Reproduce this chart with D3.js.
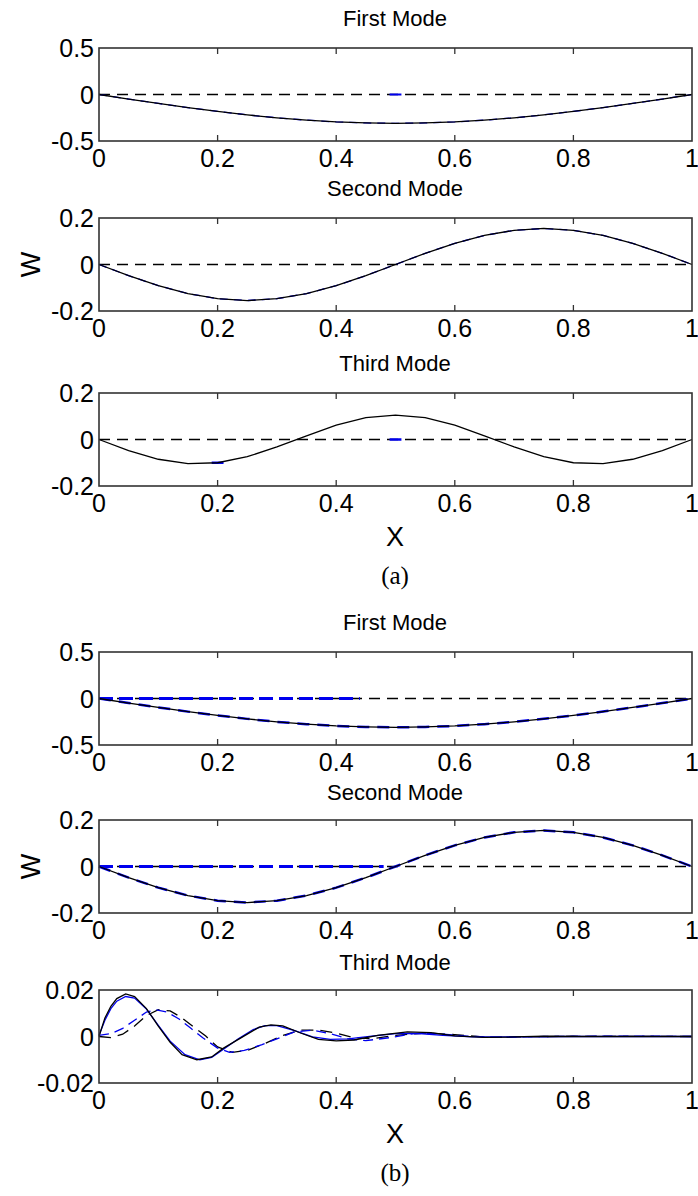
<!DOCTYPE html>
<html>
<head>
<meta charset="utf-8">
<script src="https://cdn.jsdelivr.net/npm/d3@7"></script>
<style>
  body { margin: 0; background: #fff; }
  text { font-family: "Liberation Sans", Arial, sans-serif; fill: #000; }
</style>
</head>
<body>
<svg id="chart" width="698" height="1196"></svg>
<script>
// x positions sampled along the beam
var xs = [0, 0.05, 0.1, 0.15, 0.2, 0.25, 0.3, 0.35, 0.4, 0.45, 0.5,
          0.55, 0.6, 0.65, 0.7, 0.75, 0.8, 0.85, 0.9, 0.95, 1];
var xTicks = [0, 0.2, 0.4, 0.6, 0.8, 1];
var xTickLabels = ["0", "0.2", "0.4", "0.6", "0.8", "1"];

// mode shapes
var firstMode = [0, -0.049, -0.096, -0.141, -0.182, -0.219, -0.251, -0.276, -0.295, -0.306, -0.31,
                 -0.306, -0.295, -0.276, -0.251, -0.219, -0.182, -0.141, -0.096, -0.049, 0];
var secondMode = [0, -0.048, -0.091, -0.125, -0.147, -0.155, -0.147, -0.125, -0.091, -0.048, 0,
                  0.048, 0.091, 0.125, 0.147, 0.155, 0.147, 0.125, 0.091, 0.048, 0];
var thirdMode = [0, -0.048, -0.085, -0.104, -0.1, -0.074, -0.032, 0.016, 0.062, 0.094, 0.105,
                 0.094, 0.062, 0.016, -0.032, -0.074, -0.1, -0.104, -0.085, -0.048, 0];

// (b) third mode: four decaying curves
var b3SolidBlackX = [0, 0.01, 0.02, 0.03, 0.045, 0.06, 0.08, 0.1, 0.12, 0.14, 0.165, 0.19, 0.21, 0.24, 0.27, 0.29, 0.31, 0.34, 0.37, 0.4, 0.43, 0.47, 0.52, 0.56, 0.6, 0.65, 0.7, 0.75, 0.8, 1];
var b3SolidBlackY = [0, 0.008, 0.013, 0.0163, 0.0183, 0.0172, 0.012, 0.0045, -0.0025, -0.0078, -0.01, -0.0088, -0.005, -0.0005, 0.004, 0.005, 0.0046, 0.0015, -0.0012, -0.0019, -0.0015, 0.0005, 0.002, 0.0017, 0.0003, -0.0004, -0.0002, 0.0001, 0, 0];
var b3SolidBlueX = [0, 0.01, 0.02, 0.03, 0.045, 0.06, 0.08, 0.1, 0.12, 0.145, 0.17, 0.19, 0.21, 0.235, 0.26, 0.28, 0.3, 0.33, 0.36, 0.39, 0.42, 0.46, 0.5, 0.54, 0.58, 0.63, 0.7, 0.8, 1];
var b3SolidBlueY = [0.0005, 0.007, 0.012, 0.0152, 0.0172, 0.0165, 0.0118, 0.0048, -0.002, -0.0078, -0.01, -0.009, -0.0055, -0.001, 0.003, 0.0047, 0.0047, 0.0025, -0.0002, -0.0012, -0.001, 0.0002, 0.0012, 0.0013, 0.0005, -0.0002, -0.0002, 0, 0];
var b3DashBlackX = [0, 0.02, 0.04, 0.06, 0.08, 0.1, 0.12, 0.14, 0.16, 0.18, 0.2, 0.225, 0.25, 0.28, 0.31, 0.34, 0.37, 0.4, 0.43, 0.46, 0.5, 0.55, 0.6, 0.66, 0.72, 0.8, 1];
var b3DashBlackY = [0, -0.0005, 0.001, 0.0045, 0.009, 0.0115, 0.011, 0.008, 0.004, 0.0002, -0.0045, -0.0068, -0.006, -0.003, 0.0005, 0.0027, 0.0028, 0.0015, -0.0005, -0.001, 0.0005, 0.0015, 0.0008, -0.0004, -0.0001, 0.0001, 0];
var b3DashBlueX = [0, 0.02, 0.04, 0.06, 0.08, 0.095, 0.115, 0.135, 0.155, 0.175, 0.2, 0.22, 0.245, 0.275, 0.3, 0.33, 0.36, 0.39, 0.42, 0.45, 0.49, 0.53, 0.57, 0.62, 0.67, 0.75, 0.9, 1];
var b3DashBlueY = [0.0005, 0.0012, 0.0035, 0.007, 0.0105, 0.0115, 0.0105, 0.0075, 0.0035, -0.0005, -0.005, -0.0068, -0.006, -0.0035, -0.001, 0.002, 0.0027, 0.0012, -0.001, -0.0018, -0.0005, 0.0012, 0.0012, 0.0002, -0.0004, 0, 0.0002, 0];

// where the thick blue dashed zero line stops in (b)
var blueZeroEndB1 = 0.44;
var blueZeroEndB2 = 0.48;

var svg = d3.select("#chart");
var left = 99, right = 692, ph = 93;

var x = d3.scaleLinear().domain([0, 1]).range([left, right]);

function pairs(xa, ya) {
  return xa.map(function(v, i) { return [v, ya[i]]; });
}

function panel(top, title, yMax, yTickLabels, series, opts) {
  var y = d3.scaleLinear().domain([-yMax, yMax]).range([top + ph, top]);
  var g = svg.append("g");
  var line = d3.line().x(function(d) { return x(d[0]); }).y(function(d) { return y(d[1]); });

  // zero reference
  if (!opts.noZero) {
    g.append("line")
      .attr("x1", x(0)).attr("x2", x(1)).attr("y1", y(0)).attr("y2", y(0))
      .attr("stroke", "#000").attr("stroke-width", 1.3).attr("stroke-dasharray", "11,7");
  }

  series.forEach(function(s) {
    g.append("path")
      .datum(s.data)
      .attr("d", line)
      .attr("fill", "none")
      .attr("stroke", s.color)
      .attr("stroke-width", s.width || 1.3)
      .attr("stroke-dasharray", s.dash || null);
  });

  // box
  g.append("rect")
    .attr("x", left).attr("y", top).attr("width", right - left).attr("height", ph)
    .attr("fill", "none").attr("stroke", "#333").attr("stroke-width", 1.6);

  // inward ticks
  xTicks.slice(1, -1).forEach(function(t) {
    g.append("line").attr("x1", x(t)).attr("x2", x(t)).attr("y1", top).attr("y2", top + 6)
      .attr("stroke", "#333").attr("stroke-width", 1.3);
    g.append("line").attr("x1", x(t)).attr("x2", x(t)).attr("y1", top + ph).attr("y2", top + ph - 6)
      .attr("stroke", "#333").attr("stroke-width", 1.3);
  });

  xTicks.forEach(function(t, i) {
    g.append("text").attr("x", x(t)).attr("y", top + ph + 26)
      .attr("text-anchor", "middle").attr("font-size", 25)
      .text(xTickLabels[i]);
  });
  [yMax, 0, -yMax].forEach(function(v, i) {
    g.append("text").attr("x", left - 5).attr("y", y(v) + 9)
      .attr("text-anchor", "end").attr("font-size", 25)
      .text(yTickLabels[i]);
  });

  g.append("text").attr("x", 395).attr("y", top - 22 + (opts.titleShift || 0))
    .attr("text-anchor", "middle").attr("font-size", 22)
    .text(title);

  if (opts.ylabel) {
    g.append("text")
      .attr("transform", "translate(40," + y(0) + ") rotate(-90)")
      .attr("text-anchor", "middle").attr("font-size", 27)
      .text("W");
  }
  if (opts.xlabel) {
    g.append("text").attr("x", 395).attr("y", top + ph + 60)
      .attr("text-anchor", "middle").attr("font-size", 27).text("X");
    g.append("text").attr("x", 395).attr("y", top + ph + 98)
      .attr("text-anchor", "middle").attr("font-size", 25)
      .style("font-family", "'Liberation Serif', 'Times New Roman', serif")
      .text(opts.caption);
  }
}

var f1 = pairs(xs, firstMode), f2 = pairs(xs, secondMode), f3 = pairs(xs, thirdMode);

// (a)
panel(48, "First Mode", 0.5, ["0.5", "0", "-0.5"], [
  { data: [[0.49, 0], [0.51, 0]], color: "#0000ee", width: 2 },
  { data: f1, color: "#0000ee", dash: "8,6" },
  { data: f1, color: "#000" }
], {});
panel(218, "Second Mode", 0.2, ["0.2", "0", "-0.2"], [
  { data: f2, color: "#0000ee", dash: "8,6" },
  { data: f2, color: "#000" }
], { ylabel: true });
panel(393, "Third Mode", 0.2, ["0.2", "0", "-0.2"], [
  { data: [[0.49, 0], [0.51, 0]], color: "#0000ee", width: 2.5 },
  { data: [[0.19, -0.1], [0.21, -0.1]], color: "#0000ee", width: 2.5 },
  { data: f3, color: "#000" }
], { xlabel: true, caption: "(a)" });

// (b)
panel(652, "First Mode", 0.5, ["0.5", "0", "-0.5"], [
  { data: [[0, 0], [blueZeroEndB1, 0]], color: "#0000ee", width: 3, dash: "14,6" },
  { data: f1, color: "#0000ee", width: 2.5, dash: "12,8" },
  { data: f1, color: "#000" }
], {});
panel(820, "Second Mode", 0.2, ["0.2", "0", "-0.2"], [
  { data: [[0, 0], [blueZeroEndB2, 0]], color: "#0000ee", width: 3, dash: "14,6" },
  { data: f2, color: "#0000ee", width: 2.5, dash: "12,8" },
  { data: f2, color: "#000" }
], { ylabel: true, titleShift: 2 });
panel(990, "Third Mode", 0.02, ["0.02", "0", "-0.02"], [
  { data: pairs(b3DashBlackX, b3DashBlackY), color: "#000", dash: "12,7" },
  { data: pairs(b3DashBlueX, b3DashBlueY), color: "#0000ee", dash: "10,6" },
  { data: pairs(b3SolidBlueX, b3SolidBlueY), color: "#0000ee" },
  { data: pairs(b3SolidBlackX, b3SolidBlackY), color: "#000" }
], { xlabel: true, caption: "(b)", titleShift: 2, noZero: true });
</script>
</body>
</html>
